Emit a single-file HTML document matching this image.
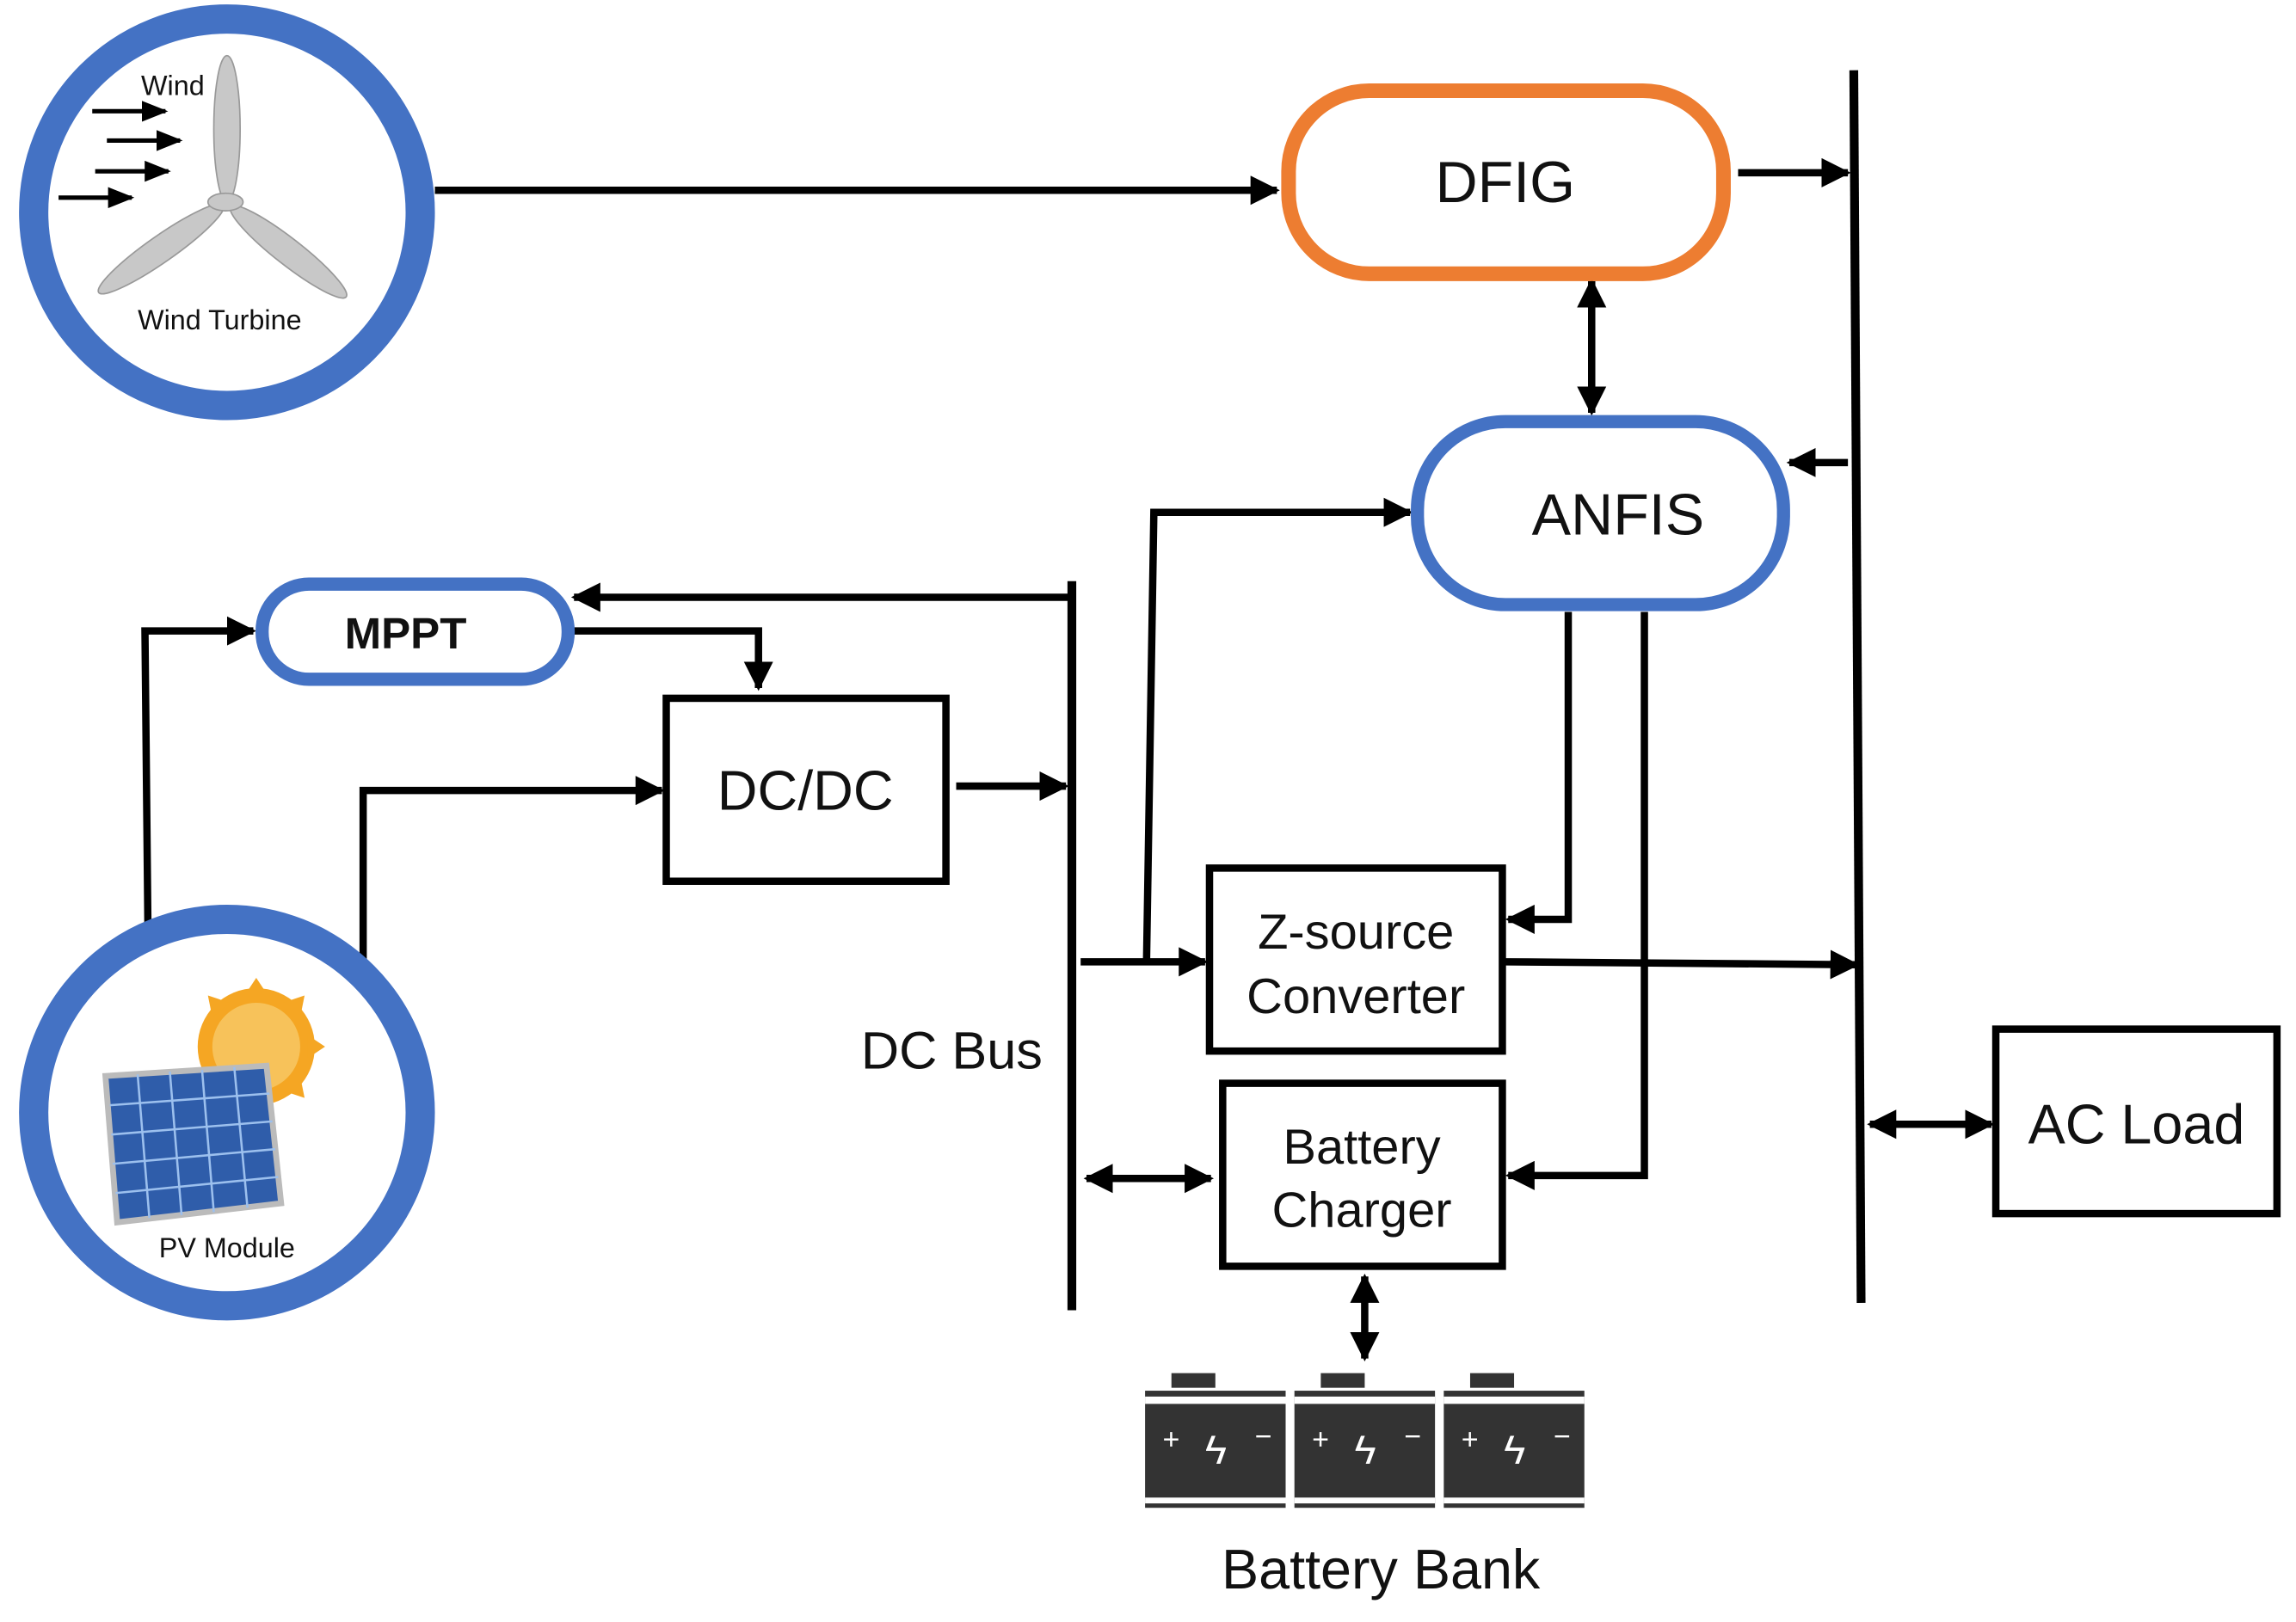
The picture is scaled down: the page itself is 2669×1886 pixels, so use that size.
<!DOCTYPE html>
<html><head><meta charset="utf-8"><style>
html,body{margin:0;padding:0;background:#fff;}
svg{display:block;}
text{font-family:"Liberation Sans",sans-serif;fill:#111;}
</style></head><body>
<svg width="2669" height="1886" viewBox="0 0 1568 1108" preserveAspectRatio="none" xmlns="http://www.w3.org/2000/svg">
<defs>
<marker id="a" viewBox="0 0 10 10" refX="9" refY="5" markerWidth="4" markerHeight="4" orient="auto-start-reverse"><path d="M0,0 L10,5 L0,10 z" fill="#000"/></marker>
<marker id="s" viewBox="0 0 10 10" refX="9" refY="5" markerWidth="6" markerHeight="6" orient="auto"><path d="M0,1 L10,5 L0,9 z" fill="#000"/></marker>
</defs>
<g stroke="#000" stroke-width="5" fill="none">
<!-- wind to DFIG -->
<line x1="297" y1="130" x2="872" y2="130" marker-end="url(#a)"/>
<line x1="1187" y1="118" x2="1262" y2="118" marker-end="url(#a)"/>
<!-- AC bus -->
<line x1="1266" y1="48" x2="1271" y2="890" stroke-width="6"/>
<line x1="1087" y1="192" x2="1087" y2="282" marker-start="url(#a)" marker-end="url(#a)"/>
<line x1="1262" y1="316" x2="1222" y2="316" marker-end="url(#a)"/>
<polyline points="783,657 788,350 963,350" marker-end="url(#a)"/>
<line x1="730" y1="408" x2="392" y2="408" marker-end="url(#a)"/>
<polyline points="388,431 518,431 518,470" marker-end="url(#a)"/>
<polyline points="101,632 99,431 173,431" marker-end="url(#a)"/>
<polyline points="248,670 248,540 452,540" marker-end="url(#a)"/>
<line x1="653" y1="537" x2="728" y2="537" marker-end="url(#a)"/>
<!-- DC bus -->
<line x1="732" y1="397" x2="732" y2="895" stroke-width="6"/>
<line x1="738" y1="657" x2="823" y2="657" marker-end="url(#a)"/>
<polyline points="1071,418 1071,628 1030,628" marker-end="url(#a)"/>
<line x1="1028" y1="657" x2="1268" y2="659" marker-end="url(#a)"/>
<polyline points="1123,418 1123,803 1030,803" marker-end="url(#a)"/>
<line x1="742" y1="805" x2="827" y2="805" marker-start="url(#a)" marker-end="url(#a)"/>
<line x1="932" y1="872" x2="932" y2="928" marker-start="url(#a)" marker-end="url(#a)"/>
<line x1="1277" y1="768" x2="1360" y2="768" marker-start="url(#a)" marker-end="url(#a)"/>
<!-- boxes -->
<rect x="455" y="477" width="191" height="125"/>
<rect x="826" y="593" width="200" height="125"/>
<rect x="835" y="740" width="191" height="125"/>
<rect x="1363" y="703" width="192" height="126"/>
</g>
<rect x="880" y="62" width="297" height="125" rx="55" fill="none" stroke="#ED7D31" stroke-width="10"/>
<rect x="968" y="288" width="250" height="125" rx="60" fill="none" stroke="#4472C4" stroke-width="9"/>
<rect x="179" y="399" width="209" height="65" rx="32" fill="none" stroke="#4472C4" stroke-width="9"/>
<circle cx="155" cy="145" r="132" fill="none" stroke="#4472C4" stroke-width="20"/>
<circle cx="155" cy="760" r="132" fill="none" stroke="#4472C4" stroke-width="20"/>
<!-- wind turbine -->
<g fill="#c8c8c8" stroke="#999" stroke-width="1">
<ellipse cx="155" cy="88" rx="9" ry="50"/>
<ellipse cx="110" cy="170" rx="9" ry="52" transform="rotate(55 110 170)"/>
<ellipse cx="197" cy="172" rx="9" ry="50" transform="rotate(-52 197 172)"/>
<ellipse cx="154" cy="138" rx="12" ry="6"/>
</g>
<g stroke="#000" stroke-width="3">
<line x1="63" y1="76" x2="113" y2="76" marker-end="url(#s)"/>
<line x1="73" y1="96" x2="123" y2="96" marker-end="url(#s)"/>
<line x1="65" y1="117" x2="115" y2="117" marker-end="url(#s)"/>
<line x1="40" y1="135" x2="90" y2="135" marker-end="url(#s)"/>
</g>
<text x="118" y="65" font-size="19" text-anchor="middle">Wind</text>
<text x="150" y="225" font-size="19" text-anchor="middle">Wind Turbine</text>
<!-- PV -->
<g fill="#F5A623">
<circle cx="175" cy="715" r="40"/>
<polygon points="175,668 183,680 167,680"/><polygon points="222,715 210,707 210,723"/>
<polygon points="208,680 205,695 193,685"/><polygon points="142,680 157,685 145,695"/>
<polygon points="208,750 193,745 205,735"/>
</g>
<circle cx="175" cy="715" r="30" fill="#F7C25A"/>
<polygon points="72,735 182,728 192,822 80,835" fill="#2F5DAA" stroke="#bbb" stroke-width="4"/>
<g stroke="#9cc0ee" stroke-width="1.5">
<line x1="94" y1="734" x2="102" y2="832"/><line x1="116" y1="732" x2="124" y2="830"/><line x1="138" y1="731" x2="146" y2="828"/><line x1="160" y1="729" x2="169" y2="825"/>
<line x1="75" y1="755" x2="184" y2="747"/><line x1="76" y1="775" x2="186" y2="766"/><line x1="77" y1="795" x2="188" y2="785"/><line x1="79" y1="815" x2="190" y2="804"/>
</g>
<text x="155" y="859" font-size="19" text-anchor="middle">PV Module</text>
<!-- batteries -->
<g>
<g transform="translate(782,938)"><rect x="18" y="0" width="30" height="10" fill="#333"/><rect x="0" y="12" width="96" height="80" fill="#333"/><rect x="0" y="16" width="96" height="5" fill="#fff"/><rect x="0" y="85" width="96" height="4" fill="#fff"/><text x="12" y="52" font-size="20" style="fill:#fff">+</text><text x="75" y="50" font-size="20" style="fill:#fff">−</text><text x="41" y="62" font-size="28" style="fill:#fff">ϟ</text></g>
<g transform="translate(884,938)"><rect x="18" y="0" width="30" height="10" fill="#333"/><rect x="0" y="12" width="96" height="80" fill="#333"/><rect x="0" y="16" width="96" height="5" fill="#fff"/><rect x="0" y="85" width="96" height="4" fill="#fff"/><text x="12" y="52" font-size="20" style="fill:#fff">+</text><text x="75" y="50" font-size="20" style="fill:#fff">−</text><text x="41" y="62" font-size="28" style="fill:#fff">ϟ</text></g>
<g transform="translate(986,938)"><rect x="18" y="0" width="30" height="10" fill="#333"/><rect x="0" y="12" width="96" height="80" fill="#333"/><rect x="0" y="16" width="96" height="5" fill="#fff"/><rect x="0" y="85" width="96" height="4" fill="#fff"/><text x="12" y="52" font-size="20" style="fill:#fff">+</text><text x="75" y="50" font-size="20" style="fill:#fff">−</text><text x="41" y="62" font-size="28" style="fill:#fff">ϟ</text></g>
</g>
<!-- labels -->
<text x="1028" y="138" font-size="40" text-anchor="middle">DFIG</text>
<text x="1105" y="365" font-size="40" text-anchor="middle">ANFIS</text>
<text x="277" y="443" font-size="30" font-weight="bold" text-anchor="middle">MPPT</text>
<text x="550" y="553" font-size="38" text-anchor="middle">DC/DC</text>
<text x="650" y="730" font-size="36" text-anchor="middle">DC Bus</text>
<text x="926" y="648" font-size="34" text-anchor="middle">Z-source</text>
<text x="926" y="692" font-size="34" text-anchor="middle">Converter</text>
<text x="930" y="795" font-size="34" text-anchor="middle">Battery</text>
<text x="930" y="838" font-size="34" text-anchor="middle">Charger</text>
<text x="1459" y="781" font-size="38" text-anchor="middle">AC Load</text>
<text x="943" y="1085" font-size="38" text-anchor="middle">Battery Bank</text>
</svg>
</body></html>
